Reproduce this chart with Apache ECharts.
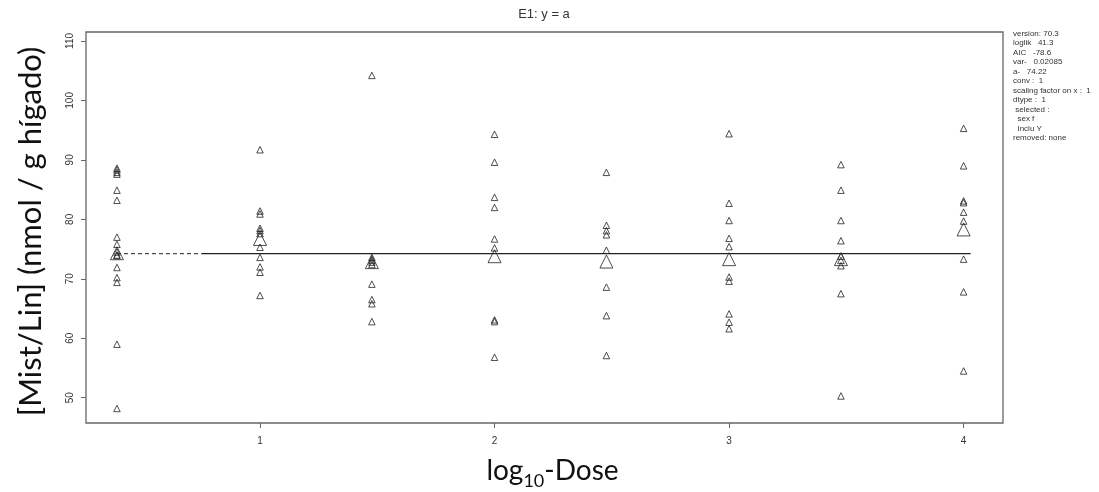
<!DOCTYPE html>
<html>
<head>
<meta charset="utf-8">
<script src="https://cdn.jsdelivr.net/npm/echarts@6/dist/echarts.min.js"></script>
<style>
html,body{margin:0;padding:0;background:#fff;}
#chart{width:1099px;height:492px;}
</style>
</head>
<body>
<div id="chart"></div>
<script>
// ---- data ----
const groupX = [0.39, 1, 1.477, 2, 2.477, 3, 3.477, 4];
const g0 = [88.6, 88.3, 87.9, 87.6, 84.9, 83.2, 77.0, 75.8, 74.5, 74.0, 73.9, 71.9, 70.2, 69.4, 59.0, 48.2];
const g1 = [91.7, 81.4, 80.9, 78.5, 78.1, 77.6, 75.3, 73.6, 72.0, 71.1, 67.2];
const g2 = [104.2, 73.6, 73.1, 72.8, 72.4, 69.1, 66.5, 65.8, 62.8];
const g3 = [94.3, 89.6, 83.7, 82.0, 76.7, 75.2, 63.1, 62.8, 56.8];
const g4 = [87.9, 79.0, 78.1, 77.4, 74.8, 68.6, 63.8, 57.1];
const g5 = [94.4, 82.7, 79.8, 76.8, 75.4, 70.3, 69.6, 64.1, 62.7, 61.6];
const g6 = [89.2, 84.9, 79.8, 76.4, 73.8, 73.1, 72.2, 67.5, 50.3];
const g7 = [95.3, 89.0, 83.1, 82.8, 81.2, 79.7, 73.3, 67.8, 54.5];
const groups = [g0, g1, g2, g3, g4, g5, g6, g7];
const groupMeans = [74.3, 76.7, 72.8, 73.8, 72.9, 73.3, 73.3, 78.3];
const fitA = 74.22;
const dashedX = [0.39, 0.75];
const solidX = [0.75, 4.03];
const xTicks = [1, 2, 3, 4];
const yTicks = [50, 60, 70, 80, 90, 100, 110];
const infoLines = [
  'version: 70.3',
  'loglik   41.3',
  'AIC   -78.6',
  'var-   0.02085',
  'a-   74.22',
  'conv :  1',
  'scaling factor on x :  1',
  'dtype :  1',
  ' selected :',
  '  sex f',
  '  Inclu Y',
  'removed: none'
];

// ---- build series ----
const points = [];
groups.forEach((g, i) => g.forEach(v => points.push([groupX[i], v])));
const meanPts = groupMeans.map((m, i) => [groupX[i], m]);

const chart = echarts.init(document.getElementById('chart'), null, {renderer: 'canvas'});
chart.setOption({
  animation: false,
  backgroundColor: '#fff',
  title: [
    {
      text: 'E1: y = a',
      left: 539, top: 3, textAlign: 'center',
      textStyle: {fontFamily: 'Liberation Sans', fontSize: 13, fontWeight: 'normal', color: '#333'}
    },
    {
      text: infoLines.join('\n'),
      left: 1008, top: 24,
      textStyle: {fontFamily: 'Liberation Sans', fontSize: 8, lineHeight: 9.5, fontWeight: 'normal', color: '#333'}
    }
  ],
  grid: {left: 86, right: 96, top: 32, bottom: 69, show: true, borderColor: '#666', borderWidth: 1.3,
         containLabel: false, outerBoundsMode: 'none'},
  xAxis: {
    type: 'value', min: 0.258, max: 4.168,
    name: '{a|log}{s|10}{a|-Dose}',
    nameLocation: 'middle', nameGap: 34,
    nameTextStyle: {
      padding: [0, 0, 0, 16],
      rich: {
        a: {fontFamily: 'Lato', fontSize: 28, color: '#111'},
        s: {fontFamily: 'Lato', fontSize: 18, color: '#111', verticalAlign: 'bottom', padding: [0, 0, -5, 0]}
      }
    },
    splitLine: {show: false},
    axisLine: {show: false},
    axisTick: {show: true, length: 5, customValues: xTicks, lineStyle: {color: '#666'}},
    axisLabel: {customValues: xTicks, fontSize: 10, color: '#333', margin: 13, fontFamily: 'Liberation Sans'}
  },
  yAxis: {
    type: 'value', min: 45.75, max: 111.5,
    name: '[Mist/Lin] (nmol / g hígado)',
    nameLocation: 'middle', nameGap: 40,
    nameTextStyle: {fontFamily: 'Lato', fontSize: 31, color: '#111', padding: [0, 8, 0, 0]},
    splitLine: {show: false},
    axisLine: {show: false},
    axisTick: {show: true, length: 5, customValues: yTicks, lineStyle: {color: '#666'}},
    axisLabel: {customValues: yTicks, fontSize: 10, color: '#333', margin: 11, rotate: 90, fontFamily: 'Liberation Sans'}
  },
  series: [
    {
      type: 'line', data: dashedX.map(x => [x, fitA]), symbol: 'none',
      lineStyle: {color: '#222', width: 1, type: [4, 3]}, silent: true
    },
    {
      type: 'line', data: solidX.map(x => [x, fitA]), symbol: 'none',
      lineStyle: {color: '#222', width: 1.2}, silent: true
    },
    {
      type: 'scatter', data: points, symbol: 'triangle', symbolSize: 6.5,
      itemStyle: {color: 'rgba(255,255,255,0)', borderColor: '#222', borderWidth: 1}
    },
    {
      type: 'scatter', data: meanPts, symbol: 'triangle', symbolSize: 13,
      itemStyle: {color: 'rgba(255,255,255,0)', borderColor: '#222', borderWidth: 1}
    }
  ]
});
</script>
</body>
</html>
